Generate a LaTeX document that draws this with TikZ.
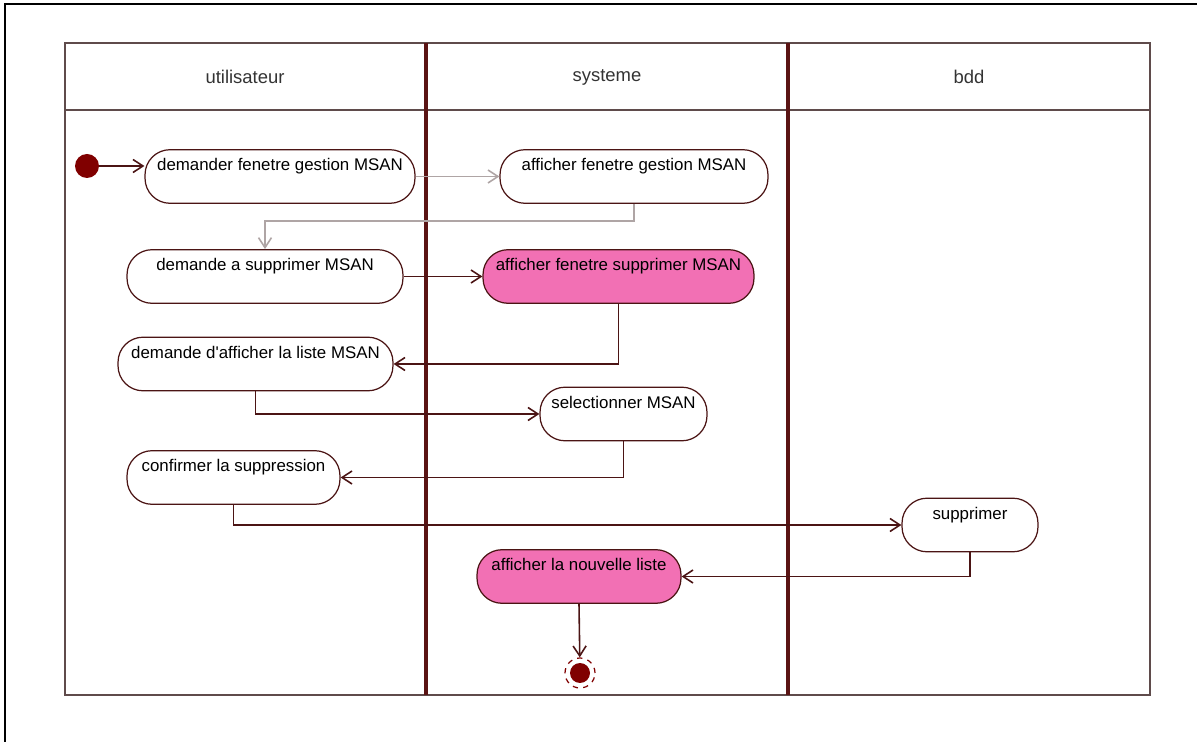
\documentclass[tikz,border=0pt]{standalone}
\usepackage{fontspec}
\setmainfont{Liberation Sans}
\usetikzlibrary{arrows.meta}
\definecolor{lanecol}{RGB}{90,20,20}
\definecolor{framecol}{RGB}{95,75,75}
\definecolor{flowcol}{RGB}{75,20,20}
\definecolor{faintcol}{RGB}{175,165,165}
\definecolor{dotcol}{RGB}{128,0,0}
\definecolor{pinkfill}{RGB}{242,112,180}
\begin{document}
\begin{tikzpicture}[x=0.02cm,y=-0.02cm,
  act/.style={draw=flowcol, line width=0.7pt, rounded corners=0.5cm, fill=white,
    font=\fontsize{9.6}{12}\selectfont, inner xsep=0pt, inner ysep=0pt,
    text height=12pt, text depth=18.5pt},
  hot/.style={act, fill=pinkfill},
  flow/.style={draw=flowcol, line width=0.9pt, -{Straight Barb[length=2mm,width=2.6mm]}},
  faintflow/.style={flow, draw=faintcol},
  lanehead/.style={font=\fontsize{10.5}{12}\selectfont, text=black!80},
  startdot/.style={circle, fill=dotcol, inner sep=0pt, minimum size=0.48cm},
  enddot/.style={circle, draw=dotcol, dashed, line width=0.7pt, inner sep=0pt, minimum size=0.6cm,
    path picture={\fill[dotcol] (path picture bounding box.center) circle (0.2cm);}}
]
\useasboundingbox (0,0) rectangle (1197,742);
% page frame
\draw[black, line width=1.2pt] (5,742) -- (5,4) -- (1197,4);
% swimlanes
\draw[framecol, line width=1.2pt] (65,43) rectangle (1150,695);
\draw[framecol, line width=1.2pt] (65,110) -- (1150,110);
\draw[lanecol, line width=1.8pt] (426,43) -- (426,695);
\draw[lanecol, line width=1.8pt] (788,43) -- (788,695);
\node[lanehead] (h1) at (245,77) {utilisateur};
\node[lanehead] (h2) at (607,77) {systeme};
\node[lanehead] (h3) at (969,77) {bdd};

% activities
\node[act, minimum width=5.4cm]  (n1) at (280,176.5) {demander fenetre gestion MSAN};
\node[act, minimum width=5.36cm] (n2) at (634,176.5) {afficher fenetre gestion MSAN};
\node[act, minimum width=5.52cm] (n3) at (265,276.5) {demande a supprimer MSAN};
\node[hot, minimum width=5.42cm] (n4) at (618.5,276.5) {afficher fenetre supprimer MSAN};
\node[act, minimum width=5.5cm]  (n5) at (255.5,364) {demande d\textquotesingle afficher la liste MSAN};
\node[act, minimum width=3.34cm] (n6) at (623.5,414) {selectionner MSAN};
\node[act, minimum width=4.26cm] (n7) at (233.5,477.5) {confirmer la suppression};
\node[act, minimum width=2.72cm] (n8) at (970,525) {supprimer};
\node[hot, minimum width=4.08cm] (n9) at (579,576.5) {afficher la nouvelle liste};

\node[startdot] (init) at (87,166) {};
\node[enddot] (fin) at (580,673) {};

% transitions
\draw[flow] (init) -- (init -| n1.west);
\draw[faintflow] (n1.east) -- (n2.west);
\draw[faintflow] (n2.south) -- ++(0,17) -| (n3.north);
\draw[flow] (n3.east) -- (n4.west);
\draw[flow] (n4.south) |- (n5.east);
\draw[flow] (n5.south) |- (n6.west);
\draw[flow] (n6.south) |- (n7.east);
\draw[flow] (n7.south) |- (n8.west);
\draw[flow] (n8.south) |- (n9.east);
\draw[flow] (n9.south) -- (fin);
\end{tikzpicture}
\end{document}
